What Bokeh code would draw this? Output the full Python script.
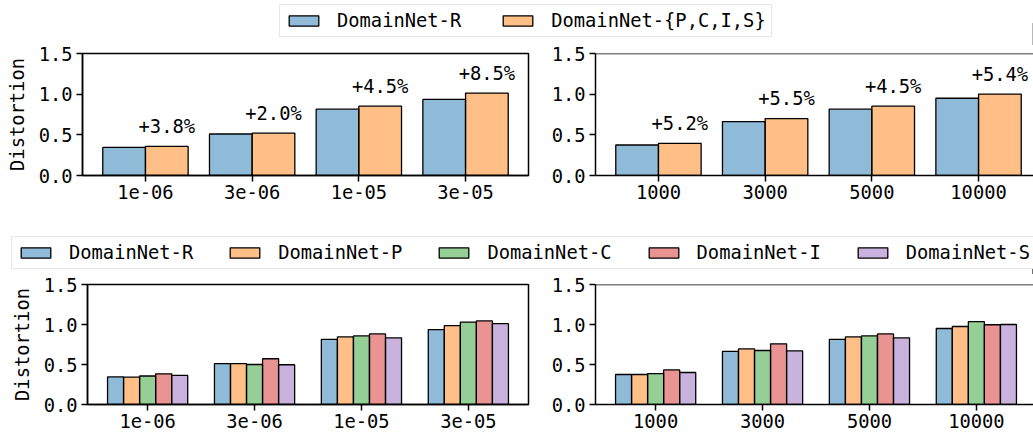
from bokeh.plotting import figure
from bokeh.layouts import column, row
from bokeh.models import (Range1d, FixedTicker, PrintfTickFormatter, Legend,
                          LegendItem, Span, ColumnDataSource)
from bokeh.core.properties import value
from bokeh.embed import file_html
from bokeh.resources import INLINE

# ---- data -------------------------------------------------------------
lr_labels = ["1e-06", "3e-06", "1e-05", "3e-05"]
size_labels = ["1000", "3000", "5000", "10000"]

# top row: real domain vs. the other four domains combined
lr_real = [0.345, 0.51, 0.815, 0.935]
lr_other = [0.358, 0.52, 0.852, 1.014]
lr_gain = ["+3.8%", "+2.0%", "+4.5%", "+8.5%"]

size_real = [0.375, 0.663, 0.815, 0.95]
size_other = [0.395, 0.70, 0.852, 1.001]
size_gain = ["+5.2%", "+5.5%", "+4.5%", "+5.4%"]

# bottom row: every domain on its own
domains = ["DomainNet-R", "DomainNet-P", "DomainNet-C", "DomainNet-I", "DomainNet-S"]
lr_domain_R = [0.345, 0.51, 0.815, 0.935]
lr_domain_P = [0.342, 0.51, 0.845, 0.985]
lr_domain_C = [0.356, 0.50, 0.857, 1.03]
lr_domain_I = [0.383, 0.572, 0.882, 1.045]
lr_domain_S = [0.364, 0.497, 0.833, 1.01]

size_domain_R = [0.375, 0.663, 0.815, 0.95]
size_domain_P = [0.375, 0.695, 0.845, 0.975]
size_domain_C = [0.386, 0.675, 0.857, 1.035]
size_domain_I = [0.432, 0.758, 0.882, 0.997]
size_domain_S = [0.40, 0.67, 0.833, 1.0]

pair_names = ["DomainNet-R", "DomainNet-{P,C,I,S}"]
y_ticks = [0.0, 0.5, 1.0, 1.5]

# ---- styling ----------------------------------------------------------
TAB = ["#1f77b4", "#ff7f0e", "#2ca02c", "#d62728", "#9467bd"]
FONT = "DejaVu Sans Mono"
FS = "18.75px"
LW = 1.5
BAR_LW = 1.3
W = 1033


def make_axes(frame_w, frame_h, x_start, x_end, labels, left, right,
              top, bottom, y_label, closed):
    p = figure(frame_width=frame_w, frame_height=frame_h,
               x_range=Range1d(x_start, x_end), y_range=Range1d(0, 1.5),
               toolbar_location=None, output_backend="svg",
               min_border_left=left, min_border_right=right,
               min_border_top=top, min_border_bottom=bottom)
    p.xgrid.visible = False
    p.ygrid.visible = False
    p.background_fill_color = "white"
    p.border_fill_color = "white"
    if closed:
        p.outline_line_color = "black"
        p.outline_line_width = LW
        p.outline_line_alpha = 1.0
    else:
        p.outline_line_color = None
        p.add_layout(Span(location=1.5, dimension="width",
                          line_color="black", line_width=LW))

    p.xaxis.ticker = FixedTicker(ticks=list(range(len(labels))))
    p.xaxis.major_label_overrides = {i: lab for i, lab in enumerate(labels)}
    p.yaxis.ticker = FixedTicker(ticks=y_ticks)
    p.yaxis.formatter = PrintfTickFormatter(format="%.1f")
    for ax in (p.xaxis, p.yaxis):
        ax.axis_line_width = LW
        ax.axis_line_color = "black"
        ax.major_tick_line_width = LW
        ax.major_tick_line_color = "black"
        ax.major_tick_out = 6
        ax.major_tick_in = 0
        ax.minor_tick_line_color = None
        ax.major_label_text_font = FONT
        ax.major_label_text_font_size = FS
        ax.major_label_text_color = "black"
    p.xaxis.major_label_standoff = 3
    p.yaxis.major_label_standoff = 4
    if y_label:
        p.yaxis.axis_label = y_label
        p.yaxis.axis_label_text_font = FONT
        p.yaxis.axis_label_text_font_size = FS
        p.yaxis.axis_label_text_font_style = "normal"
        p.yaxis.axis_label_text_color = "black"
        p.yaxis.axis_label_standoff = 8
    return p


def draw_bars(p, series, width):
    n = len(series)
    for k, vals in enumerate(series):
        off = (k - (n - 1) / 2) * width
        src = ColumnDataSource(dict(x=[i + off for i in range(len(vals))], top=vals))
        p.vbar(x="x", top="top", bottom=0, width=width, source=src,
               fill_color=TAB[k], fill_alpha=0.5,
               line_color="black", line_width=BAR_LW)


def draw_gains(p, tops, gains, width):
    src = ColumnDataSource(dict(x=[i + width / 2 for i in range(len(tops))],
                                y=tops, t=gains))
    p.text(x="x", y="y", text="t", source=src, text_align="center",
           text_baseline="alphabetic", y_offset=-20,
           text_font=value(FONT), text_font_size=value(FS), text_color="black")


def legend_strip(h, names, x, y, spacing):
    f = figure(width=W, height=h, x_range=Range1d(0, 1), y_range=Range1d(0, 1),
               x_axis_type=None, y_axis_type=None, toolbar_location=None,
               output_backend="svg", min_border=0)
    f.outline_line_color = None
    f.xgrid.visible = False
    f.ygrid.visible = False
    items = []
    for k, name in enumerate(names):
        # a single bar parked outside the visible range supplies the swatch style
        r = f.vbar(x=[5.0], top=[0.5], width=0.1, fill_color=TAB[k], fill_alpha=0.5,
                   line_color="black", line_width=BAR_LW)
        items.append(LegendItem(label=name, renderers=[r]))
    lg = Legend(items=items, location=(x, y), orientation="horizontal",
                glyph_width=37, glyph_height=13, label_standoff=15,
                spacing=spacing, padding=5, margin=0, label_height=20,
                label_text_font=FONT, label_text_font_size=FS,
                label_text_color="black",
                border_line_color="#d0d0d0", border_line_width=1.2,
                background_fill_color="white", background_fill_alpha=1.0)
    f.add_layout(lg)
    return f


# ---- top row ----------------------------------------------------------
top_span = 4.18          # data units shown across the full frame
p1 = make_axes(446, 122, -0.59, -0.59 + top_span, lr_labels, 82, 20, 8, 45,
               "Distortion", True)
draw_bars(p1, [lr_real, lr_other], 0.4)
draw_gains(p1, lr_other, lr_gain, 0.4)

p2 = make_axes(439, 122, -0.59, -0.59 + 439 * top_span / 446, size_labels,
               46, 0, 8, 45, None, False)
draw_bars(p2, [size_real, size_other], 0.4)
draw_gains(p2, size_other, size_gain, 0.4)

# ---- bottom row -------------------------------------------------------
bot_span = 4.125
p3 = make_axes(441, 120, -0.5625, -0.5625 + bot_span, lr_labels, 87, 20, 10, 30,
               "Distortion", True)
draw_bars(p3, [lr_domain_R, lr_domain_P, lr_domain_C, lr_domain_I, lr_domain_S], 0.15)

p4 = make_axes(439, 120, -0.5625, -0.5625 + 439 * bot_span / 441, size_labels,
               46, 0, 10, 30, None, False)
draw_bars(p4, [size_domain_R, size_domain_P, size_domain_C, size_domain_I,
               size_domain_S], 0.15)

leg_top = legend_strip(45, pair_names, 279, 8, 38)
leg_bot = legend_strip(54, domains, 11, 5, 33)

layout = column(leg_top, row(p1, p2), leg_bot, row(p3, p4), spacing=0)

open("out.html", "w").write(file_html(layout, INLINE))
